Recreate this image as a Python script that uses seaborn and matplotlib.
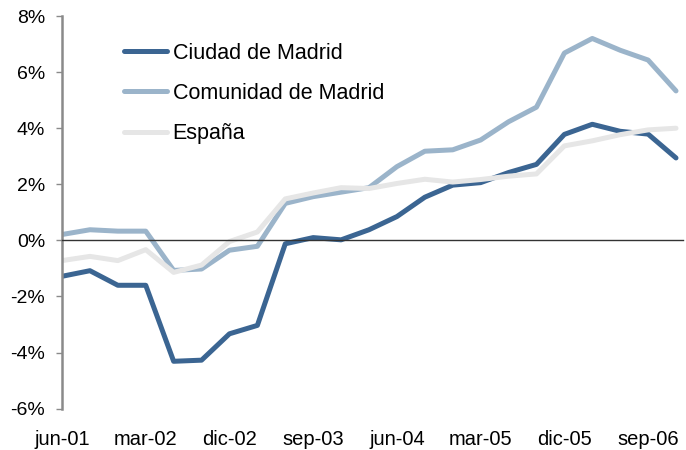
import pandas as pd
import seaborn as sns
import matplotlib.pyplot as plt
from matplotlib.ticker import FuncFormatter

# Quarterly data, jun-01 .. dic-06 (values in %)
periods = ['jun-01', 'sep-01', 'dic-01', 'mar-02', 'jun-02', 'sep-02', 'dic-02', 'mar-03',
           'jun-03', 'sep-03', 'dic-03', 'mar-04', 'jun-04', 'sep-04', 'dic-04', 'mar-05',
           'jun-05', 'sep-05', 'dic-05', 'mar-06', 'jun-06', 'sep-06', 'dic-06']
ciudad = [-1.28, -1.08, -1.6, -1.6, -4.31, -4.27, -3.33, -3.03, -0.12, 0.1, 0.02, 0.38,
          0.85, 1.54, 1.97, 2.06, 2.42, 2.71, 3.78, 4.14, 3.89, 3.79, 2.94]
comunidad = [0.21, 0.38, 0.33, 0.33, -1.07, -1.02, -0.35, -0.21, 1.32, 1.56, 1.72, 1.88,
             2.63, 3.18, 3.23, 3.58, 4.23, 4.75, 6.68, 7.2, 6.78, 6.43, 5.33]
espana = [-0.72, -0.57, -0.72, -0.33, -1.14, -0.88, -0.04, 0.3, 1.48, 1.69, 1.88, 1.85,
          2.03, 2.18, 2.08, 2.17, 2.29, 2.37, 3.37, 3.55, 3.77, 3.94, 4.0]

series_names = ['Ciudad de Madrid', 'Comunidad de Madrid', 'España']
colors = ['#3b6592', '#9bb4ca', '#e6e6e6']

# long format for seaborn
df = pd.concat([
    pd.DataFrame({'idx': range(len(periods)), 'value': vals, 'serie': name})
    for name, vals in zip(series_names, [ciudad, comunidad, espana])
])

sns.set_style('white')
plt.rcParams['font.family'] = ['Liberation Sans', 'DejaVu Sans']
plt.rcParams['text.color'] = 'black'
plt.rcParams['xtick.color'] = 'black'
plt.rcParams['ytick.color'] = 'black'

fig, ax = plt.subplots(figsize=(6.86, 4.5), dpi=100)
fig.subplots_adjust(left=0.0904, right=0.9956, bottom=0.0918, top=0.9644)

sns.lineplot(data=df, x='idx', y='value', hue='serie', hue_order=series_names,
             palette=colors, linewidth=3.6, ax=ax)

ax.set_xlim(0, 22.25)
ax.set_ylim(-6, 8)
ax.set_yticks(range(-6, 9, 2))
ax.yaxis.set_major_formatter(FuncFormatter(lambda v, p: f"{v:.0f}%"))
ax.set_xlabel('')
ax.set_ylabel('')

# axes look
ax.spines['top'].set_visible(False)
ax.spines['right'].set_visible(False)
ax.spines['left'].set_color('#8a8a8a')
ax.spines['left'].set_linewidth(1.8)
ax.spines['bottom'].set_position(('data', 0))
ax.spines['bottom'].set_color('#333333')
ax.spines['bottom'].set_linewidth(1.0)

tick_pos = list(range(0, len(periods), 3))
ax.set_xticks(tick_pos)
ax.tick_params(axis='x', direction='out', length=4, width=1, color='#333333',
               labelbottom=False)
ax.tick_params(axis='y', direction='out', length=4, width=1, color='#8a8a8a',
               labelsize=14, labelcolor='black', pad=8, left=True)

# x labels sit at the bottom of the plot, not on the zero line
sec = ax.secondary_xaxis('bottom')
sec.set_xticks(tick_pos, [periods[i] for i in tick_pos])
sec.tick_params(length=0, pad=15, labelsize=14.5, labelcolor='black')
sec.spines['bottom'].set_visible(False)

handles, labels = ax.get_legend_handles_labels()
leg = ax.legend(handles, labels, loc='upper left', bbox_to_anchor=(0.1, 0.932),
                frameon=False, fontsize=15.5, borderaxespad=0, borderpad=0,
                handlelength=2.0, handletextpad=0.25, labelspacing=0.89)
for t in leg.get_texts():
    t.set_color('black')

plt.savefig('out.png', dpi=100)
